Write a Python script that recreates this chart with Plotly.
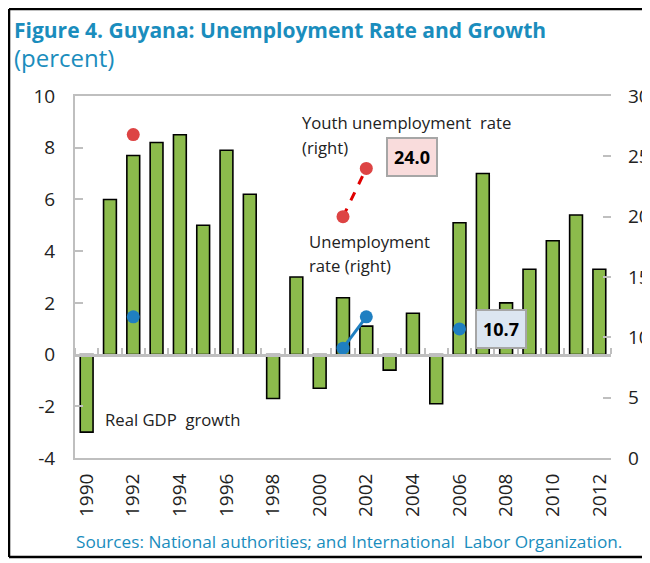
import plotly.graph_objects as go

years = list(range(1990, 2013))
gdp_growth = [-3.0, 6.0, 7.7, 8.2, 8.5, 5.0, 7.9, 6.2, -1.7, 3.0, -1.3, 2.2, 1.1,
              -0.6, 1.6, -1.9, 5.1, 7.0, 2.0, 3.3, 4.4, 5.4, 3.3]
unemp_years = [1992, 1993, 2001, 2002, 2003, 2006]
unemp_rate = [11.7, None, 9.1, 11.7, None, 10.7]
youth_years = [1992, 1993, 2001, 2002]
youth_rate = [26.8, None, 20.0, 24.0]
tick_years = list(range(1990, 2013, 2))
left_ticks = [-4, -2, 0, 2, 4, 6, 8, 10]
left_labels = ["-4", "-2", "0", "2", "4", "6", "8", "10"]
boundaries = [y - 0.5 for y in range(1990, 2014)]

FONT = "Open Sans"
TEAL = "#1a8dbd"
GRAY = "#bfbfbf"

fig = go.Figure()
fig.add_trace(go.Bar(x=years, y=gdp_growth, width=0.55,
                     marker=dict(color="#8cbb4c", line=dict(color="black", width=1.6))))
fig.add_trace(go.Scatter(x=unemp_years, y=unemp_rate, yaxis="y2", mode="lines+markers",
                         line=dict(color="#1f7fc1", width=3), marker=dict(size=13, color="#1f7fc1"),
                         connectgaps=False))
fig.add_trace(go.Scatter(x=youth_years, y=youth_rate, yaxis="y2", mode="lines+markers",
                         line=dict(color="#e00000", width=3, dash="dash"),
                         marker=dict(size=13, color="#dd4444"), connectgaps=False))
# dummy trace so the zero-line axis gets drawn
fig.add_trace(go.Scatter(x=[1990], y=[0], xaxis="x2", mode="markers", opacity=0,
                         hoverinfo="skip"))

ann = [
    dict(text="<b>Figure 4. Guyana: Unemployment Rate and Growth</b>", x=-0.1175, y=1.182,
         xanchor="left", font=dict(size=21, color=TEAL)),
    dict(text="(percent)", x=-0.1175, y=1.105, xanchor="left", font=dict(size=24, color=TEAL)),
    dict(text="Youth unemployment  rate", x=0.4198, y=0.928, xanchor="left"),
    dict(text="(right)", x=0.4198, y=0.859, xanchor="left"),
    dict(text="<b>24.0</b>", x=0.6287, y=0.8315, bgcolor="#f9dcdc", bordercolor="#a6a6a6",
         borderwidth=2, borderpad=6, font=dict(size=18, color="black")),
    dict(text="Unemployment", x=0.4328, y=0.5994, xanchor="left"),
    dict(text="rate (right)", x=0.4328, y=0.533, xanchor="left"),
    dict(text="<b>10.7</b>", x=0.7948, y=0.3564, bgcolor="#dce6f1", bordercolor="#a6a6a6",
         borderwidth=2, borderpad=6, font=dict(size=18, color="black")),
    dict(text="Real GDP  growth", x=0.0522, y=0.1077, xanchor="left"),
    dict(text="Sources: National authorities; and International  Labor Organization.",
         x=0.511, y=-0.232, font=dict(size=17.2, color=TEAL)),
]
for a in ann:
    a.setdefault("font", dict(size=16.7, color="#222222"))
    a.setdefault("xanchor", "center")
    fig.add_annotation(xref="paper", yref="paper", showarrow=False, yanchor="middle", **a)

# outer frame
for x0, y0, x1, y1 in [(-0.1231, 1.24, 1.2, 1.24), (-0.1231, -0.2735, -0.1231, 1.24),
                       (-0.1231, -0.2735, 1.2, -0.2735)]:
    fig.add_shape(type="line", xref="paper", yref="paper", x0=x0, y0=y0, x1=x1, y1=y1,
                  line=dict(color="black", width=2.5))

fig.update_layout(
    width=642, height=555,
    margin=dict(l=67, r=39, t=88, b=105, autoexpand=False),
    paper_bgcolor="white", plot_bgcolor="white",
    showlegend=False,
    font=dict(family=FONT, color="#222222"),
    xaxis=dict(range=[1989.5, 2012.5], tickvals=tick_years, tickangle=-90,
               tickfont=dict(size=19), showline=True, mirror=True, linecolor=GRAY,
               linewidth=2, showgrid=False, ticks="", automargin=False, ticklabelstandoff=6),
    xaxis2=dict(range=[1989.5, 2012.5], overlaying="x", anchor="free", position=4 / 14,
                side="top", tickvals=boundaries, ticks="outside", ticklen=6, tickwidth=2,
                tickcolor=GRAY, showticklabels=False, showline=True, linecolor=GRAY,
                linewidth=2.5, showgrid=False, automargin=False),
    yaxis=dict(range=[-4, 10], tickvals=left_ticks, ticktext=left_labels, ticks="inside",
               ticklen=8, tickwidth=1.5, tickcolor=GRAY, tickfont=dict(size=19),
               showline=True, linecolor=GRAY, linewidth=2, showgrid=False, zeroline=False,
               ticklabelstandoff=14, automargin=False),
    yaxis2=dict(range=[0, 30], dtick=5, overlaying="y", side="right", ticks="inside",
                ticklen=8, tickwidth=1.5, tickcolor=GRAY, tickfont=dict(size=19),
                showline=False, showgrid=False, zeroline=False, ticklabelstandoff=16,
                automargin=False),
)

fig.write_html("out.html")
